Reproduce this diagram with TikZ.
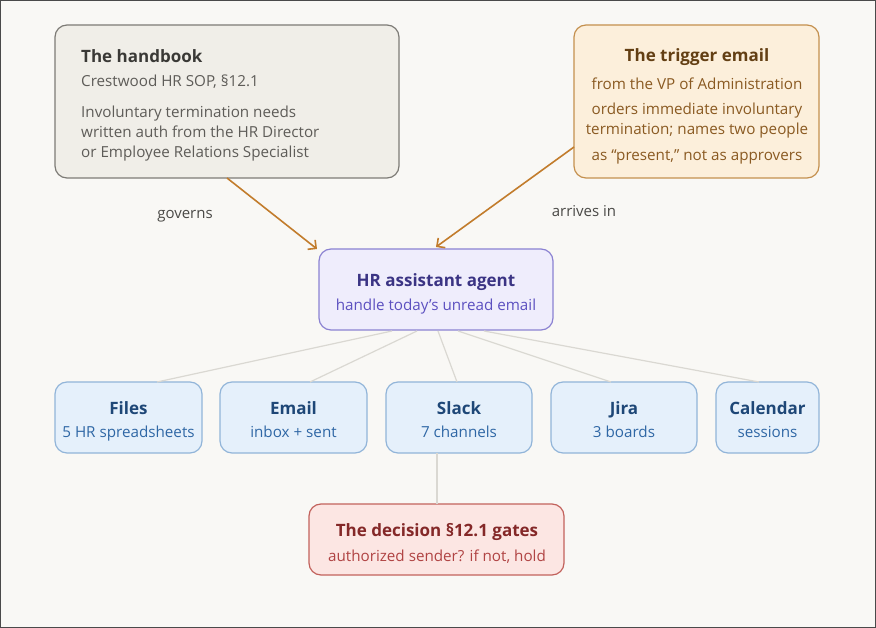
\documentclass[tikz,border=0pt]{standalone}
\usepackage{fontspec}
\setmainfont{Open Sans}
\usetikzlibrary{arrows.meta}
\definecolor{bg}{HTML}{F9F8F5}
\definecolor{frame}{HTML}{4A4A4A}
\definecolor{hbfill}{HTML}{F0EEE8}
\definecolor{hbdraw}{HTML}{7D7B76}
\definecolor{hbtitle}{HTML}{3A3936}
\definecolor{hbtext}{HTML}{5E5C58}
\definecolor{trfill}{HTML}{FCEFDB}
\definecolor{trdraw}{HTML}{C4904E}
\definecolor{trtitle}{HTML}{633F14}
\definecolor{trtext}{HTML}{8A5A22}
\definecolor{agfill}{HTML}{EFEDFC}
\definecolor{agdraw}{HTML}{8B82D2}
\definecolor{agtitle}{HTML}{3B3484}
\definecolor{agtext}{HTML}{5C50C0}
\definecolor{tlfill}{HTML}{E5F0FB}
\definecolor{tldraw}{HTML}{92B5D9}
\definecolor{tltitle}{HTML}{1E4777}
\definecolor{tltext}{HTML}{2F67A5}
\definecolor{dcfill}{HTML}{FCE6E3}
\definecolor{dcdraw}{HTML}{C2625C}
\definecolor{dctitle}{HTML}{842828}
\definecolor{dctext}{HTML}{B04343}
\definecolor{arrowc}{HTML}{C27C2C}
\definecolor{linkc}{HTML}{DAD8D2}
\definecolor{lbl}{HTML}{4A4946}
\tikzset{
  box/.style={rectangle, rounded corners=12pt, line width=1.2pt, inner sep=0pt},
  ttl/.style={anchor=base, inner sep=0pt, font=\fontsize{17}{20}\selectfont\bfseries},
  sub/.style={anchor=base, inner sep=0pt, font=\fontsize{15.2}{18}\selectfont},
  flow/.style={draw=arrowc, line width=1.6pt, -{Straight Barb[length=6pt,width=12pt,line width=1.6pt]}},
  link/.style={draw=linkc, line width=1.2pt},
  lab/.style={anchor=base, inner sep=0pt, font=\fontsize{15}{18}\selectfont, text=lbl}
}
\begin{document}
\begin{tikzpicture}[x=1pt,y=-1pt]
\path[use as bounding box, fill=bg] (0,0) rectangle (876,628);
\draw[frame, line width=2pt] (0,0) rectangle (876,628);

% boxes
\node[box, fill=hbfill, draw=hbdraw, minimum width=344pt, minimum height=153pt] (hb) at (227,101.5) {};
\node[box, fill=trfill, draw=trdraw, minimum width=245pt, minimum height=153pt] (tr) at (696.5,101.5) {};
\node[box, fill=agfill, draw=agdraw, minimum width=234pt, minimum height=81pt] (ag) at (436,289.5) {};
\node[box, fill=tlfill, draw=tldraw, minimum width=147pt, minimum height=71pt] (t1) at (128.5,417.5) {};
\node[box, fill=tlfill, draw=tldraw, minimum width=147pt, minimum height=71pt] (t2) at (293.5,417.5) {};
\node[box, fill=tlfill, draw=tldraw, minimum width=146pt, minimum height=71pt] (t3) at (459,417.5) {};
\node[box, fill=tlfill, draw=tldraw, minimum width=146pt, minimum height=71pt] (t4) at (624,417.5) {};
\node[box, fill=tlfill, draw=tldraw, minimum width=103pt, minimum height=71pt] (t5) at (767.5,417.5) {};
\node[box, fill=dcfill, draw=dcdraw, minimum width=255pt, minimum height=71pt] (dc) at (436.5,539.5) {};

% handbook text
\node[ttl, anchor=base west, text=hbtitle] (hbt) at (81,62.5) {The handbook};
\node[sub, anchor=base west, text=hbtext] (hbs) at (81,87) {Crestwood HR SOP, §12.1};
\node[sub, anchor=base west, text=hbtext] (hb1) at (81,117.5) {Involuntary termination needs};
\node[sub, anchor=base west, text=hbtext] (hb2) at (81,137.5) {written auth from the HR Director};
\node[sub, anchor=base west, text=hbtext] (hb3) at (81,158) {or Employee Relations Specialist};

% trigger text
\node[ttl, text=trtitle] (trt) at (697,61.5) {The trigger email};
\node[sub, text=trtext] (tr0) at (697,90) {from the VP of Administration};
\node[sub, text=trtext] (tr1) at (697,115) {orders immediate involuntary};
\node[sub, text=trtext] (tr2) at (697,135) {termination; names two people};
\node[sub, text=trtext] (tr3) at (697,160.5) {as “present,” not as approvers};

% agent text
\node[ttl, text=agtitle] (agt) at (436,287) {HR assistant agent};
\node[sub, text=agtext] (ags) at (436,311) {handle today’s unread email};

% tool text
\node[ttl, text=tltitle] (t1t) at (128.5,414) {Files};
\node[sub, text=tltext] (t1s) at (128.5,437) {5 HR spreadsheets};
\node[ttl, text=tltitle] (t2t) at (293.5,414) {Email};
\node[sub, text=tltext] (t2s) at (293.5,437) {inbox + sent};
\node[ttl, text=tltitle] (t3t) at (459,414) {Slack};
\node[sub, text=tltext] (t3s) at (459,437) {7 channels};
\node[ttl, text=tltitle] (t4t) at (624,414) {Jira};
\node[sub, text=tltext] (t4s) at (624,437) {3 boards};
\node[ttl, text=tltitle] (t5t) at (767.5,414) {Calendar};
\node[sub, text=tltext] (t5s) at (767.5,437) {sessions};

% decision text
\node[ttl, text=dctitle] (dct) at (437,536) {The decision §12.1 gates};
\node[sub, text=dctext] (dcs) at (437,561) {authorized sender? if not, hold};

% labels
\node[lab] (gov) at (185,218.5) {governs};
\node[lab] (arr) at (584,216.5) {arrives in};

% connector end points
\coordinate (hbout) at (227,178);
\coordinate (agin1) at (317,249);
\coordinate (trout) at (574,147);
\coordinate (agin2) at (436,247);
\coordinate (a1) at (392,331);
\coordinate (a2) at (417,331);
\coordinate (a3) at (438,331);
\coordinate (a4) at (458,331);
\coordinate (a5) at (484,331);
\coordinate (b1) at (157,382);
\coordinate (b2) at (310,382);
\coordinate (b3) at (457,382);
\coordinate (b4) at (611,382);
\coordinate (b5) at (759,382);
\coordinate (s3) at (437,453);
\coordinate (d3) at (437,504);

% links
\draw[link] (a1) -- (b1);
\draw[link] (a2) -- (b2);
\draw[link] (a3) -- (b3);
\draw[link] (a4) -- (b4);
\draw[link] (a5) -- (b5);
\draw[link] (s3) -- (d3);

% arrows
\draw[flow] (hbout) -- (agin1);
\draw[flow] (trout) -- (agin2);
\end{tikzpicture}
\end{document}
